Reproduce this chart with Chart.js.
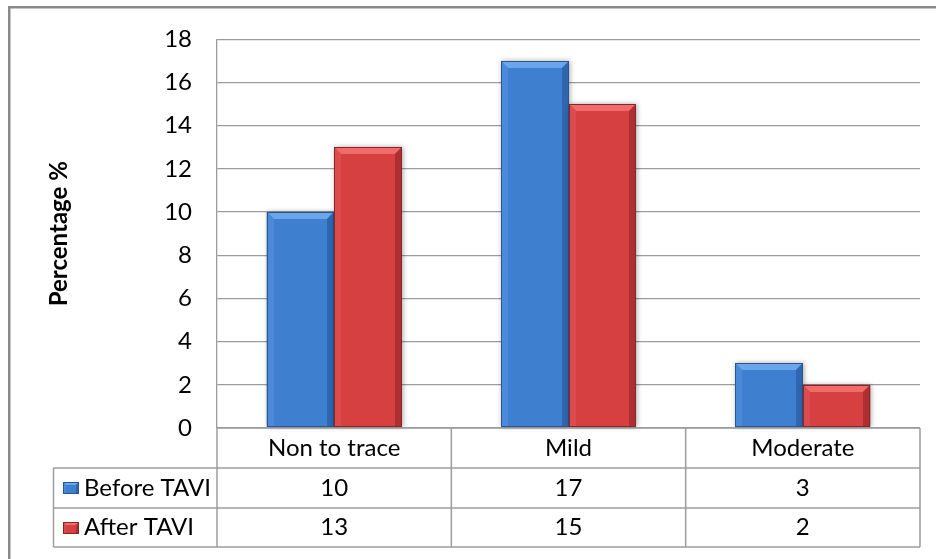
<!DOCTYPE html>
<html><head><meta charset="utf-8">
<script src="https://cdn.jsdelivr.net/npm/chart.js@4.4.1/dist/chart.umd.min.js"></script>
<style>html,body{margin:0;padding:0;background:#fff;overflow:hidden}#wrap{width:936px;height:559px;position:relative}</style>
</head><body><div id="wrap"><canvas id="c" width="936" height="559"></canvas></div>
<script>
const categories = ['Non to trace', 'Mild', 'Moderate'];
const seriesNames = ['Before TAVI', 'After TAVI'];
const beforeTAVI = [10, 17, 3];
const afterTAVI = [13, 15, 2];
const yMin = 0, yMax = 18, yStep = 2;
const yAxisTitle = 'Percentage %';

const FONT = 'Lato, sans-serif';
const FS = 24;
const palettes = [
  {main:'#3f7fd0', top:'#6aa6ec', left:'#4b8ad8', right:'#2f66b0', edge:'#2a5590'},
  {main:'#d64040', top:'#f26a6a', left:'#dc4c4c', right:'#ad2f2f', edge:'#862626'}
];
const LINE = '#9c9c9c';

function bevelRect(ctx, l, t, r, b, p, bev, shadow) {
  ctx.save();
  if (shadow) {
    ctx.shadowColor = 'rgba(0,0,0,0.35)';
    ctx.shadowBlur = 5; ctx.shadowOffsetX = 1; ctx.shadowOffsetY = 0;
  }
  ctx.fillStyle = p.main; ctx.fillRect(l, t, r - l, b - t);
  ctx.restore();
  ctx.save();
  const bv = Math.min(bev, (r - l) / 2, (b - t) / 2);
  ctx.fillStyle = p.top;
  ctx.beginPath(); ctx.moveTo(l, t); ctx.lineTo(r, t); ctx.lineTo(r - bv, t + bv); ctx.lineTo(l + bv, t + bv); ctx.closePath(); ctx.fill();
  ctx.fillStyle = p.left;
  ctx.beginPath(); ctx.moveTo(l, t); ctx.lineTo(l + bv, t + bv); ctx.lineTo(l + bv, b); ctx.lineTo(l, b); ctx.closePath(); ctx.fill();
  ctx.fillStyle = p.right;
  ctx.beginPath(); ctx.moveTo(r, t); ctx.lineTo(r - bv, t + bv); ctx.lineTo(r - bv, b); ctx.lineTo(r, b); ctx.closePath(); ctx.fill();
  ctx.strokeStyle = p.edge; ctx.lineWidth = 1;
  ctx.strokeRect(l + 0.5, t + 0.5, r - l - 1, b - t - 1);
  ctx.restore();
}

const framePlugin = {
  id: 'frame',
  beforeDraw(chart) {
    const ctx = chart.ctx;
    ctx.save();
    ctx.strokeStyle = '#8a8a8a'; ctx.lineWidth = 2.5;
    ctx.strokeRect(9.25, 7.25, 960, 700);
    ctx.restore();
  }
};

const bevelPlugin = {
  id: 'bevel',
  afterDatasetsDraw(chart) {
    const ctx = chart.ctx;
    chart.data.datasets.forEach((ds, di) => {
      const meta = chart.getDatasetMeta(di);
      meta.data.forEach(el => {
        const {x, y, base, width} = el.getProps(['x', 'y', 'base', 'width'], true);
        bevelRect(ctx, Math.round(x - width / 2), Math.round(y), Math.round(x + width / 2), Math.round(base), palettes[di], 7, true);
      });
    });
  }
};

const tablePlugin = {
  id: 'dtable',
  afterDraw(chart) {
    const ctx = chart.ctx, a = chart.chartArea, xs = chart.scales.x;
    const y0 = a.bottom, y1 = y0 + 40, y2 = y1 + 40, y3 = y2 + 39;
    const labelLeft = 53.5;
    const n = categories.length;
    const colW = (a.right - a.left) / n;
    ctx.save();
    ctx.strokeStyle = LINE; ctx.lineWidth = 1.5;
    const ln = (x1, yA, x2, yB) => { ctx.beginPath(); ctx.moveTo(x1, yA); ctx.lineTo(x2, yB); ctx.stroke(); };
    ln(a.left, y0, a.right, y0);
    ln(labelLeft, y1, a.right, y1);
    ln(labelLeft, y2, a.right, y2);
    ln(labelLeft, y3, a.right, y3);
    ln(labelLeft, y1, labelLeft, y3);
    for (let i = 0; i <= n; i++) {
      const xx = a.left + i * colW;
      ln(xx, y0, xx, y3);
    }
    ctx.fillStyle = '#000';
    ctx.font = FS + 'px ' + FONT;
    ctx.textBaseline = 'middle';
    ctx.textAlign = 'center';
    categories.forEach((c, i) => {
      const cx = xs.getPixelForValue(i);
      ctx.fillText(c, cx, (y0 + y1) / 2);
      ctx.fillText(String(beforeTAVI[i]), cx, (y1 + y2) / 2);
      ctx.fillText(String(afterTAVI[i]), cx, (y2 + y3) / 2);
    });
    ctx.textAlign = 'left';
    const rows = [[y1, y2], [y2, y3]];
    seriesNames.forEach((s, i) => {
      const cy = (rows[i][0] + rows[i][1]) / 2;
      bevelRect(ctx, 63, Math.round(cy - 6), 79, Math.round(cy + 6), palettes[i], 3, false);
      ctx.fillStyle = '#000';
      ctx.fillText(s, 84, cy);
    });
    ctx.restore();
  }
};

new Chart(document.getElementById('c'), {
  type: 'bar',
  data: {
    labels: categories,
    datasets: [
      {label: seriesNames[0], data: beforeTAVI, backgroundColor: palettes[0].main},
      {label: seriesNames[1], data: afterTAVI, backgroundColor: palettes[1].main}
    ]
  },
  options: {
    responsive: false,
    animation: false,
    events: [],
    datasets: {bar: {categoryPercentage: 0.576, barPercentage: 1}},
    layout: {padding: {left: 0, top: 35, right: 16, bottom: 131}},
    plugins: {legend: {display: false}, tooltip: {enabled: false}},
    scales: {
      x: {display: false},
      y: {
        min: yMin, max: yMax,
        ticks: {stepSize: yStep, padding: 25, color: '#000', font: {family: FONT, size: FS}},
        grid: {color: LINE, lineWidth: 1.3, drawTicks: false},
        border: {color: LINE, width: 1.3},
        title: {display: true, text: yAxisTitle, color: '#000', font: {family: FONT, size: FS, weight: 'bold'}, padding: {top: 45, bottom: 0}},
        afterFit(s) { s.width = 217; }
      }
    }
  },
  plugins: [framePlugin, bevelPlugin, tablePlugin]
});
</script></body></html>
